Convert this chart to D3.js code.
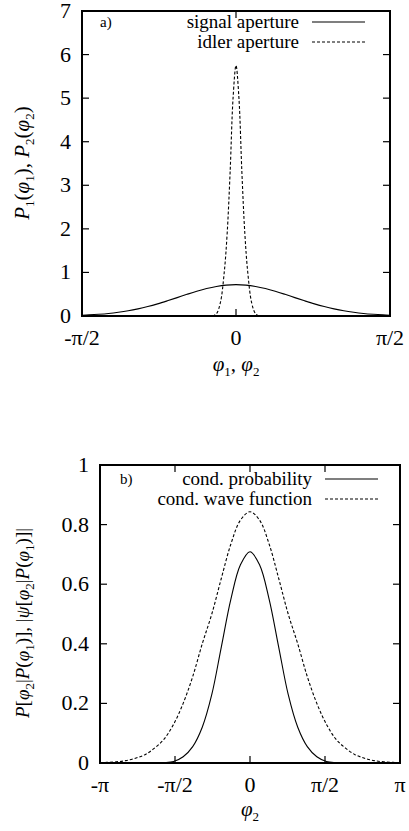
<!DOCTYPE html>
<html>
<head>
<meta charset="utf-8">
<script src="https://cdn.jsdelivr.net/npm/d3@7"></script>
<style>
  body { margin: 0; background: #fff; }
  svg { display: block; }
  text { font-family: "Liberation Serif", "Times New Roman", serif; fill: #000; }
</style>
</head>
<body>
<script>
// ---- panel a) data: phi (rad) and aperture values ----
var sigPhi = [-1.571, -1.5, -1.4, -1.3, -1.2, -1.1, -1.0, -0.9, -0.8, -0.7, -0.6, -0.5, -0.4, -0.3, -0.2, -0.1, 0,
  0.1, 0.2, 0.3, 0.4, 0.5, 0.6, 0.7, 0.8, 0.9, 1.0, 1.1, 1.2, 1.3, 1.4, 1.5, 1.571]
var sigVal = [0.018, 0.025, 0.039, 0.058, 0.085, 0.119, 0.163, 0.216, 0.278, 0.348, 0.422, 0.497, 0.568, 0.630, 0.678, 0.709, 0.72,
  0.709, 0.678, 0.630, 0.568, 0.497, 0.422, 0.348, 0.278, 0.216, 0.163, 0.119, 0.085, 0.058, 0.039, 0.025, 0.018]
var idlPhi = [-0.24, -0.2, -0.16, -0.12, -0.09, -0.06, -0.03, 0, 0.03, 0.06, 0.09, 0.12, 0.16, 0.2, 0.24]
var idlVal = [0, 0.05, 0.3, 1.0, 1.9, 3.3, 5.0, 5.75, 5.0, 3.3, 1.9, 1.0, 0.3, 0.05, 0]

// ---- panel b) data ----
var condPhi = [-3.1416, -3.0, -2.8, -2.6, -2.4, -2.2, -2.0, -1.8, -1.6, -1.4, -1.2, -1.0, -0.8, -0.6, -0.4, -0.2, 0,
  0.2, 0.4, 0.6, 0.8, 1.0, 1.2, 1.4, 1.6, 1.8, 2.0, 2.2, 2.4, 2.6, 2.8, 3.0, 3.1416]
var probVal = [0, 0, 0, 0, 0, 0, 0, 0.001, 0.005, 0.021, 0.055, 0.12, 0.23, 0.39, 0.55, 0.665, 0.709,
  0.665, 0.55, 0.39, 0.23, 0.12, 0.055, 0.021, 0.005, 0.001, 0, 0, 0, 0, 0, 0, 0]
var waveVal = [0.001, 0.002, 0.004, 0.008, 0.016, 0.028, 0.05, 0.08, 0.13, 0.20, 0.29, 0.40, 0.50, 0.62, 0.735, 0.815, 0.843,
  0.815, 0.735, 0.62, 0.50, 0.40, 0.29, 0.20, 0.13, 0.08, 0.05, 0.028, 0.016, 0.008, 0.004, 0.002, 0.001]

// tick labels
var aYTicks = [0, 1, 2, 3, 4, 5, 6, 7]
var aXTicks = [-Math.PI / 2, 0, Math.PI / 2]
var aXLabels = ['-π/2', '0', 'π/2']
var bYTicks = [0, 0.2, 0.4, 0.6, 0.8, 1]
var bYLabels = ['0', '0.2', '0.4', '0.6', '0.8', '1']
var bXTicks = [-Math.PI, -Math.PI / 2, 0, Math.PI / 2, Math.PI]
var bXLabels = ['-π', '-π/2', '0', 'π/2', 'π']

var width = 409, height = 831
var svg = d3.select('body').append('svg').attr('width', width).attr('height', height)

function zip(xs, ys) {
  return xs.map(function (x, i) { return [x, ys[i]] })
}

function panel(cfg) {
  var X = d3.scaleLinear().domain(cfg.xDomain).range([cfg.left, cfg.right])
  var Y = d3.scaleLinear().domain(cfg.yDomain).range([cfg.bottom, cfg.top])
  var g = svg.append('g')
  var tl = 7

  // ticks (inward, mirrored)
  cfg.yTicks.forEach(function (v, i) {
    g.append('line').attr('x1', cfg.left).attr('x2', cfg.left + tl)
      .attr('y1', Y(v)).attr('y2', Y(v)).attr('stroke', '#000').attr('stroke-width', 1.2)
    g.append('line').attr('x1', cfg.right).attr('x2', cfg.right - tl)
      .attr('y1', Y(v)).attr('y2', Y(v)).attr('stroke', '#000').attr('stroke-width', 1.2)
    g.append('text').attr('x', cfg.left - 11).attr('y', Y(v) + 7)
      .attr('text-anchor', 'end').attr('font-size', 22)
      .text(cfg.yLabels[i])
  })
  cfg.xTicks.forEach(function (v, i) {
    g.append('line').attr('x1', X(v)).attr('x2', X(v))
      .attr('y1', cfg.bottom).attr('y2', cfg.bottom - tl).attr('stroke', '#000').attr('stroke-width', 1.2)
    g.append('line').attr('x1', X(v)).attr('x2', X(v))
      .attr('y1', cfg.top).attr('y2', cfg.top + tl).attr('stroke', '#000').attr('stroke-width', 1.2)
    g.append('text').attr('x', X(v)).attr('y', cfg.bottom + 29)
      .attr('text-anchor', 'middle').attr('font-size', 22)
      .text(cfg.xLabels[i])
  })

  var line = d3.line().x(function (d) { return X(d[0]) }).y(function (d) { return Y(d[1]) })
    .curve(d3.curveCatmullRom)

  cfg.series.forEach(function (s, i) {
    g.append('path').datum(s.data).attr('d', line).attr('fill', 'none')
      .attr('stroke', '#000').attr('stroke-width', 1.1)
      .attr('stroke-dasharray', s.dash ? '3,2' : null)
    // legend
    var ly = cfg.top + cfg.legendY + i * 20
    g.append('text').attr('x', cfg.legendX).attr('y', ly + 6)
      .attr('text-anchor', 'end').attr('font-size', 19).text(s.name)
    g.append('line').attr('x1', cfg.legendX + 13).attr('x2', cfg.legendX + 66)
      .attr('y1', ly).attr('y2', ly).attr('stroke', '#000').attr('stroke-width', 1.1)
      .attr('stroke-dasharray', s.dash ? '3,2' : null)
  })

  g.append('text').attr('x', cfg.left + cfg.tagDx).attr('y', cfg.top + cfg.legendY + 5)
    .attr('font-size', 15).text(cfg.tag)

  // frame
  g.append('rect').attr('x', cfg.left).attr('y', cfg.top)
    .attr('width', cfg.right - cfg.left).attr('height', cfg.bottom - cfg.top)
    .attr('fill', 'none').attr('stroke', '#000').attr('stroke-width', 2)
  return g
}

var ga = panel({
  left: 82, right: 390, top: 11, bottom: 316,
  xDomain: [-Math.PI / 2, Math.PI / 2], yDomain: [0, 7],
  yTicks: aYTicks, yLabels: aYTicks.map(String), xTicks: aXTicks, xLabels: aXLabels,
  legendX: 299, legendY: 11, tag: 'a)', tagDx: 18,
  series: [
    { name: 'signal aperture', data: zip(sigPhi, sigVal), dash: false },
    { name: 'idler aperture', data: zip(idlPhi, idlVal), dash: true }
  ]
})

var gb = panel({
  left: 100, right: 400, top: 465, bottom: 763,
  xDomain: [-Math.PI, Math.PI], yDomain: [0, 1],
  yTicks: bYTicks, yLabels: bYLabels, xTicks: bXTicks, xLabels: bXLabels,
  legendX: 312, legendY: 14, tag: 'b)', tagDx: 20,
  series: [
    { name: 'cond. probability', data: zip(condPhi, probVal), dash: false },
    { name: 'cond. wave function', data: zip(condPhi, waveVal), dash: true }
  ]
})

// axis titles
function mathLabel(sel, parts) {
  parts.forEach(function (p) {
    var t = sel.append('tspan').text(p[0])
    if (p[1] === 'i') t.attr('font-style', 'italic')
    if (p[1] === 's') t.attr('font-size', 13).attr('dy', 5)
    if (p[1] === 'u') t.attr('dy', -5)
  })
}
var xa = svg.append('text').attr('x', 236).attr('y', 371).attr('text-anchor', 'middle').attr('font-size', 21)
mathLabel(xa, [['φ', 'i'], ['1', 's'], [', ', 'u'], ['φ', 'i'], ['2', 's']])
var xb = svg.append('text').attr('x', 250).attr('y', 816).attr('text-anchor', 'middle').attr('font-size', 21)
mathLabel(xb, [['φ', 'i'], ['2', 's']])

var ya = svg.append('text').attr('transform', 'translate(29,163) rotate(-90)')
  .attr('text-anchor', 'middle').attr('font-size', 21)
mathLabel(ya, [['P', 'i'], ['1', 's'], ['(', 'u'], ['φ', 'i'], ['1', 's'], ['), ', 'u'], ['P', 'i'], ['2', 's'], ['(', 'u'], ['φ', 'i'], ['2', 's'], [')', 'u']])
var yb = svg.append('text').attr('transform', 'translate(29,623) rotate(-90)')
  .attr('text-anchor', 'middle').attr('font-size', 19)
mathLabel(yb, [['P', 'i'], ['[', ''], ['φ', 'i'], ['2', 's'], ['|', 'u'], ['P', 'i'], ['(', ''], ['φ', 'i'], ['1', 's'], [')], |', 'u'], ['ψ', 'i'], ['[', ''], ['φ', 'i'], ['2', 's'], ['|', 'u'], ['P', 'i'], ['(', ''], ['φ', 'i'], ['1', 's'], [')]|', 'u']])
</script>
</body>
</html>
